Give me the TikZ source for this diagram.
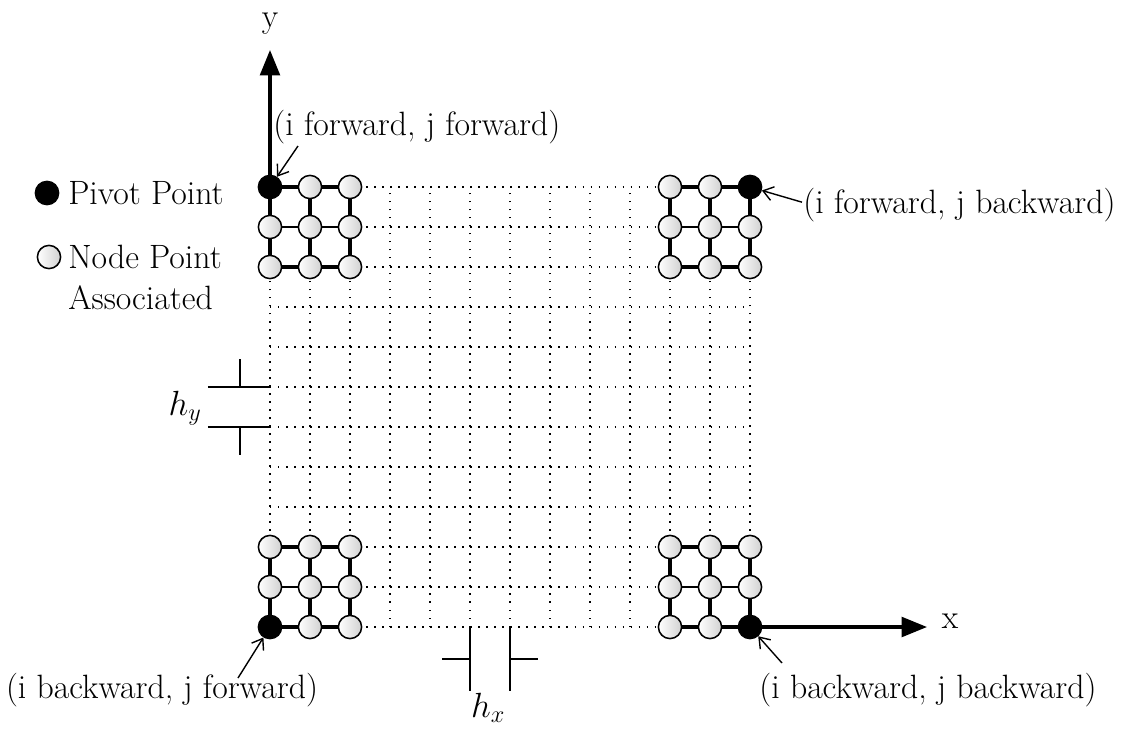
\documentclass[tikz,border=0pt]{standalone}
\usetikzlibrary{arrows.meta}
\begin{document}
\begin{tikzpicture}[x=1cm,y=1cm,
 font=\fontsize{24}{28}\selectfont,
 nodept/.style={circle, draw=black, line width=1.1pt, left color=white, right color=black!18, minimum size=0.58cm, inner sep=0pt},
 pivot/.style={circle, fill=black, draw=black, line width=1.1pt, minimum size=0.58cm, inner sep=0pt},
 gridline/.style={line width=1.05pt, dash pattern=on 1.05pt off 4.65pt},
 boldln/.style={line width=2.5pt},
 thinln/.style={line width=1.4pt},
 axis/.style={line width=2.3pt, -{Triangle[length=18pt,width=14pt]}},
 pointer/.style={line width=1pt, -{Straight Barb[length=7pt,width=10pt]}},
 dimln/.style={line width=1.4pt},
 lbl/.style={inner sep=0pt}]
\useasboundingbox (-6.75,-2.525) rectangle (21.6,15.675);
% dotted grid
\draw[gridline] (0,0) grid (12,11);
% blocks of nodes
\foreach \b/\bx/\by/\px/\py in {tl/0/9/0/2, tr/10/9/2/2, bl/0/0/0/0, br/10/0/2/0}{
  \foreach \i in {0,1,2}{
    \foreach \j in {0,1,2}{
      \def\st{nodept}
      \ifnum\i=\px\relax\ifnum\j=\py\relax\def\st{pivot}\fi\fi
      \node[\st] (\b\i\j) at (\bx+\i,\by+\j) {};
    }
  }
  \foreach \j/\w in {0/boldln,1/thinln,2/boldln}{
    \draw[\w] (\b0\j) -- (\b1\j);
    \draw[\w] (\b1\j) -- (\b2\j);
  }
  \foreach \i in {0,1,2}{
    \draw[boldln] (\b\i0) -- (\b\i1);
    \draw[boldln] (\b\i1) -- (\b\i2);
  }
}
% axes
\coordinate (ytip) at (0,14.425);
\coordinate (xtip) at (16.425,0);
\draw[axis] (tl02) -- (ytip);
\draw[axis] (br20) -- (xtip);
\node[lbl] (ylab) at (0,15.08) {y};
\node[lbl] (xlab) at (17.0,0.15) {x};
% legend
\node[pivot] (legp) at (-5.575,10.85) {};
\node[lbl, anchor=west] (legptxt) at (-5.05,10.85) {Pivot Point};
\node[nodept] (legn) at (-5.525,9.25) {};
\node[lbl, anchor=west] (legntxt) at (-5.05,9.25) {Node Point};
\node[lbl, anchor=west] (legatxt) at (-5.05,8.22) {Associated};
% pointer labels
\node[lbl, anchor=west] (lff) at (0.08,12.5) {(i forward, j forward)};
\coordinate (aff) at (0.7,12.025);
\draw[pointer] (aff) -- (tl02);
\node[lbl, anchor=west] (lfb) at (13.33,10.55) {(i forward, j backward)};
\coordinate (afb) at (13.3,10.62);
\draw[pointer] (afb) -- (tr22);
\node[lbl] (lbf) at (-2.7,-1.575) {(i backward, j forward)};
\coordinate (abf) at (-0.8,-1.275);
\draw[pointer] (abf) -- (bl00);
\node[lbl] (lbb) at (16.45,-1.575) {(i backward, j backward)};
\coordinate (abb) at (12.8,-0.9);
\draw[pointer] (abb) -- (br20);
% h_y dimension
\draw[dimln] (-1.55,6) -- (0,6);
\draw[dimln] (-1.55,5) -- (0,5);
\draw[dimln] (-0.75,6) -- (-0.75,6.7);
\draw[dimln] (-0.75,5) -- (-0.75,4.3);
\node[lbl] (hy) at (-2.125,5.475) {$h_y$};
% h_x dimension
\draw[dimln] (5,0) -- (5,-1.6);
\draw[dimln] (6,0) -- (6,-1.6);
\draw[dimln] (4.3,-0.8) -- (5,-0.8);
\draw[dimln] (6,-0.8) -- (6.7,-0.8);
\node[lbl] (hx) at (5.45,-2.03) {$h_x$};
\end{tikzpicture}
\end{document}
